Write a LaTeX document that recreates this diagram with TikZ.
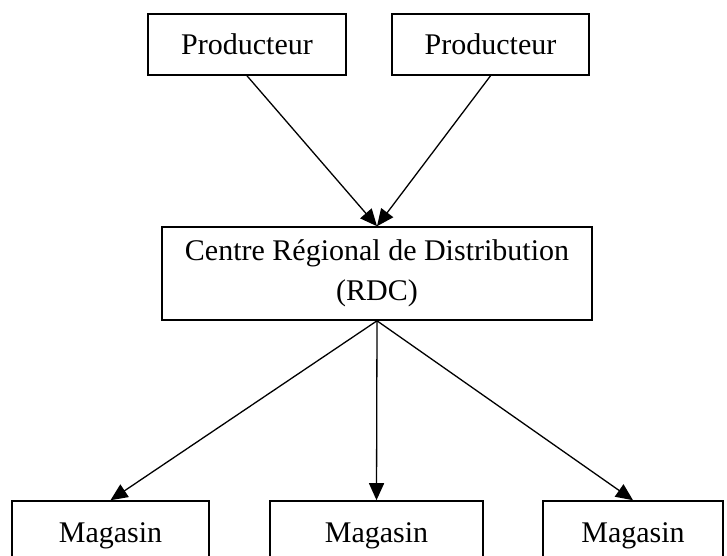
\documentclass[tikz,border=0pt]{standalone}
\usepackage{fontspec}
\setmainfont{Liberation Serif}
\usetikzlibrary{arrows.meta}
\tikzset{
  box/.style ={rectangle, draw=black, line width=1.6pt, fill=white, inner sep=0pt, align=center, font=\fontsize{30}{40}\selectfont},
  e/.style   ={-{Triangle[length=17pt,width=15pt]}, line width=1.3pt, draw=black},
}
\begin{document}
\begin{tikzpicture}[x=1pt,y=1pt]
\useasboundingbox (0,0) rectangle (727,-555);
%% ---------- producers (top) ----------
\node[box, minimum width=198pt, minimum height=61pt] (prodA) at (247,-44.5) {Producteur};
\node[box, minimum width=197pt, minimum height=61pt] (prodB) at (490.5,-44.5) {Producteur};
%% ---------- regional centre ----------
\node[box, minimum width=430pt, minimum height=93pt] (rdc) at (377,-273.5) {Centre Régional de Distribution\\(RDC)};
%% ---------- shops (bottom, cut by the page) ----------
\node[box, minimum width=197pt, minimum height=70pt] (magA) at (110.5,-536) {Magasin};
\node[box, minimum width=213pt, minimum height=70pt] (magB) at (376.5,-536) {Magasin};
\node[box, minimum width=180pt, minimum height=70pt] (magC) at (633,-536) {Magasin};
%% ---------- flows ----------
\draw[e] (prodA.south) -- (rdc.north);
\draw[e] (prodB.south) -- (rdc.north);
\draw[e] (rdc.south) -- (magA.north);
\draw[e] (rdc.south) -- (magB.north);
\draw[e] (rdc.south) -- (magC.north);
\end{tikzpicture}
\end{document}
